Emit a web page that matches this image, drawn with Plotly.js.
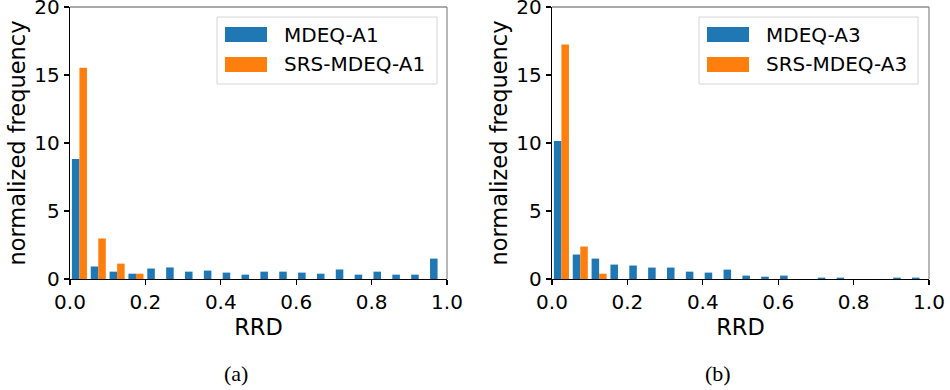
<!DOCTYPE html>
<html>
<head>
<meta charset="utf-8">
<script src="https://cdn.plot.ly/plotly-3.0.1.min.js"></script>
<style>html,body{margin:0;padding:0;background:#fff;}#chart{width:950px;height:390px;}</style>
</head>
<body>
<div id="chart"></div>
<script>
// Bin centres of the 20 RRD bins (width 0.05)
const binCenters = [0.025, 0.075, 0.125, 0.175, 0.225, 0.275, 0.325, 0.375, 0.425, 0.475,
                    0.525, 0.575, 0.625, 0.675, 0.725, 0.775, 0.825, 0.875, 0.925, 0.975];

// Panel (a)
const namesA = ["MDEQ-A1", "SRS-MDEQ-A1"];
const mdeqA1 = [8.82, 0.92, 0.54, 0.39, 0.77, 0.85, 0.54, 0.62, 0.47, 0.32,
                0.54, 0.54, 0.47, 0.39, 0.70, 0.32, 0.54, 0.32, 0.32, 1.50];
const srsMdeqA1 = [15.54, 2.98, 1.13, 0.39, 0, 0, 0, 0, 0, 0,
                   0, 0, 0, 0, 0, 0, 0, 0, 0, 0];

// Panel (b)
const namesB = ["MDEQ-A3", "SRS-MDEQ-A3"];
const mdeqA3 = [10.15, 1.80, 1.50, 1.06, 0.99, 0.84, 0.84, 0.54, 0.47, 0.69,
                0.25, 0.17, 0.25, 0, 0.10, 0.10, 0, 0, 0.10, 0.10];
const srsMdeqA3 = [17.24, 2.39, 0.39, 0, 0, 0, 0, 0, 0, 0,
                   0, 0, 0, 0, 0, 0, 0, 0, 0, 0];

const xTicks = [0, 0.2, 0.4, 0.6, 0.8, 1.0];
const yTicks = [0, 5, 10, 15, 20];
const xTitle = "RRD";
const yTitle = "normalized frequency";
const captions = ["(a)", "(b)"];

const BLUE = "#1f77b4", ORANGE = "#ff7f0e";
const W = 950, H = 390;
const px = x => x / W, py = y => 1 - y / H;
const FONT = "DejaVu Sans, sans-serif";
const TICK_FS = 20, TITLE_FS = 22.5, LEG_FS = 20;

function bar(x, y, name, color, xa, ya) {
  return {type: "bar", x: x, y: y, name: name, xaxis: xa, yaxis: ya,
          marker: {color: color, line: {width: 0}}, showlegend: false, hoverinfo: "x+y"};
}

const data = [
  bar(binCenters, mdeqA1, namesA[0], BLUE, "x", "y"),
  bar(binCenters, srsMdeqA1, namesA[1], ORANGE, "x", "y"),
  bar(binCenters, mdeqA3, namesB[0], BLUE, "x2", "y2"),
  bar(binCenters, srsMdeqA3, namesB[1], ORANGE, "x2", "y2")
];

function xaxis(dom, anchor) {
  return {domain: dom, anchor: anchor, range: [0, 1], tickvals: xTicks, tickformat: ".1f",
          ticks: "outside", ticklen: 5, tickwidth: 1.2, tickcolor: "#000",
          showline: true, linecolor: "#000", linewidth: 1.2, mirror: false,
          showgrid: false, zeroline: false, ticklabeloverflow: "allow",
          tickfont: {family: FONT, size: TICK_FS, color: "#000"},
          title: {text: xTitle, font: {family: FONT, size: TITLE_FS, color: "#000"}, standoff: 0}};
}
function yaxis(dom, anchor) {
  return {domain: dom, anchor: anchor, range: [0, 20], tickvals: yTicks,
          ticks: "outside", ticklen: 5, tickwidth: 1.2, tickcolor: "#000",
          showline: true, linecolor: "#000", linewidth: 1.2, mirror: false,
          showgrid: false, zeroline: false, ticklabeloverflow: "allow",
          tickfont: {family: FONT, size: TICK_FS, color: "#000"},
          title: {text: yTitle, font: {family: FONT, size: TITLE_FS, color: "#000"}, standoff: 2}};
}

const yDom = [py(279), py(7)];
const x1Dom = [px(70), px(447)];
const x2Dom = [px(552), px(929)];

const shapes = [];
const annotations = [];

// top and right spines (grey)
[["x", "y"], ["x2", "y2"]].forEach(([xa, ya]) => {
  shapes.push({type: "line", xref: xa + " domain", yref: ya + " domain", x0: 0, x1: 1, y0: 1, y1: 1,
               line: {color: "#555", width: 1.2}});
  shapes.push({type: "line", xref: xa + " domain", yref: ya + " domain", x0: 1, x1: 1, y0: 0, y1: 1,
               line: {color: "#888", width: 1.2}});
});

// legends
function legend(x0, x1, patchX0, textX, names) {
  shapes.push({type: "rect", xref: "paper", yref: "paper", x0: px(x0), x1: px(x1), y0: py(84), y1: py(17),
               fillcolor: "rgba(255,255,255,0.8)", line: {color: "#d6d6d6", width: 1}});
  const rows = [[27, 42, BLUE], [57, 72, ORANGE]];
  rows.forEach((r, i) => {
    shapes.push({type: "rect", xref: "paper", yref: "paper", x0: px(patchX0), x1: px(patchX0 + 42),
                 y0: py(r[1]), y1: py(r[0]), fillcolor: r[2], line: {width: 0}});
    annotations.push({xref: "paper", yref: "paper", x: px(textX), y: py((r[0] + r[1]) / 2),
                      xanchor: "left", yanchor: "middle", showarrow: false, text: names[i],
                      font: {family: FONT, size: LEG_FS, color: "#000"}});
  });
}
legend(217, 437, 225, 282, namesA);
legend(699, 918, 707, 764, namesB);

// captions
const CAPFONT = {family: "Liberation Serif, Times New Roman, serif", size: 22, color: "#000"};
annotations.push({xref: "paper", yref: "paper", x: px(236), y: py(373), xanchor: "center", yanchor: "middle",
                  showarrow: false, text: captions[0], font: CAPFONT});
annotations.push({xref: "paper", yref: "paper", x: px(718), y: py(373), xanchor: "center", yanchor: "middle",
                  showarrow: false, text: captions[1], font: CAPFONT});

const layout = {
  width: W, height: H,
  margin: {l: 0, r: 0, t: 0, b: 0},
  paper_bgcolor: "#fff", plot_bgcolor: "#fff",
  barmode: "group", bargap: 0.2, bargroupgap: 0,
  showlegend: false,
  xaxis: xaxis(x1Dom, "y"), yaxis: yaxis(yDom, "x"),
  xaxis2: xaxis(x2Dom, "y2"), yaxis2: yaxis(yDom, "x2"),
  shapes: shapes, annotations: annotations,
  font: {family: FONT, size: TICK_FS, color: "#000"}
};

Plotly.newPlot("chart", data, layout, {displayModeBar: false, staticPlot: true});
</script>
</body>
</html>
